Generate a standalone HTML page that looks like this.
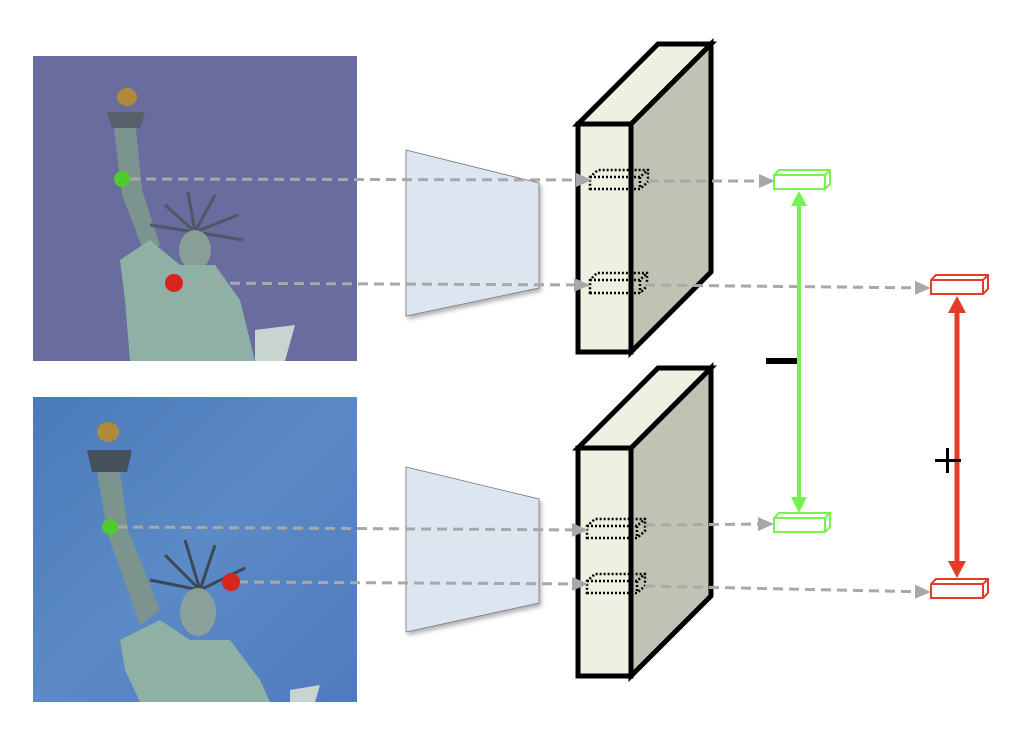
<!DOCTYPE html>
<html><head><meta charset="utf-8"><style>html,body{margin:0;padding:0;background:#fff}svg{display:block}</style></head><body>
<svg width="1030" height="734" viewBox="0 0 1030 734" xmlns="http://www.w3.org/2000/svg">
<defs>
<marker id="ag" markerWidth="16" markerHeight="14" refX="15" refY="7" orient="auto" markerUnits="userSpaceOnUse"><path d="M0,0 L16,7 L0,14z" fill="#a8a8a8"/></marker>
<linearGradient id="bg2" x1="0" y1="0" x2="1" y2="1"><stop offset="0" stop-color="#4a7ab8"/><stop offset="0.5" stop-color="#5b8ac6"/><stop offset="1" stop-color="#4f7bbd"/></linearGradient>
<filter id="sh" x="-10%" y="-10%" width="130%" height="130%"><feDropShadow dx="2" dy="3" stdDeviation="2" flood-color="#000" flood-opacity="0.3"/></filter>
</defs>
<!-- top photo -->
<rect x="33" y="56" width="324" height="305" fill="#686c9e"/>
<g>
<ellipse cx="127" cy="97" rx="10" ry="9" fill="#b08a3a"/>
<path d="M107,112 L145,112 L140,128 L112,128Z" fill="#55606a"/>
<path d="M114,128 L136,128 L142,190 L160,245 L145,255 L122,195Z" fill="#7c948e"/>
<g stroke="#4d5868" stroke-width="3"><line x1="195" y1="232" x2="150" y2="225"/><line x1="195" y1="232" x2="165" y2="205"/><line x1="195" y1="232" x2="188" y2="192"/><line x1="195" y1="232" x2="215" y2="195"/><line x1="195" y1="232" x2="238" y2="215"/><line x1="195" y1="232" x2="243" y2="240"/></g>
<ellipse cx="195" cy="250" rx="16" ry="20" fill="#8a9e98"/>
<path d="M120,260 L150,240 L180,265 L215,265 L240,300 L255,361 L130,361 L125,300Z" fill="#8fb0a4"/>
<path d="M255,330 L295,325 L285,361 L255,361Z" fill="#c8d4d0"/>
</g>
<!-- bottom photo -->
<rect x="33" y="397" width="324" height="305" fill="url(#bg2)"/>
<g>
<ellipse cx="108" cy="432" rx="11" ry="10" fill="#b08a3a"/>
<path d="M87,450 L132,450 L127,472 L92,472Z" fill="#44505c"/>
<path d="M97,472 L120,472 L128,530 L160,610 L140,625 L108,535Z" fill="#7c948e"/>
<g stroke="#3c4856" stroke-width="3"><line x1="200" y1="590" x2="150" y2="580"/><line x1="200" y1="590" x2="165" y2="555"/><line x1="200" y1="590" x2="185" y2="540"/><line x1="200" y1="590" x2="215" y2="545"/><line x1="200" y1="590" x2="245" y2="568"/></g>
<ellipse cx="198" cy="612" rx="18" ry="24" fill="#8aa09a"/>
<path d="M120,640 L160,620 L190,640 L230,640 L260,680 L270,702 L140,702 L125,670Z" fill="#8fb0a4"/>
<path d="M290,690 L320,685 L315,702 L290,702Z" fill="#c8d4d0"/>
</g>
<!-- trapezoids -->
<polygon points="406,150 539,183 539,288 406,316" fill="#dde5f0" stroke="#777" stroke-width="0.8" filter="url(#sh)"/>
<polygon points="406,467 539,499 539,603 406,632" fill="#dde5f0" stroke="#777" stroke-width="0.8" filter="url(#sh)"/>
<!-- blocks -->
<g stroke="#000" stroke-width="5" stroke-linejoin="miter">
<polygon points="631,124 711,44 711,272 631,352" fill="#c0c2b3"/>
<polygon points="578,124 658,44 711,44 631,124" fill="#eef0e2"/>
<rect x="578" y="124" width="53" height="228" fill="#eef0e2"/>
<polygon points="631,448 711,368 711,596 631,676" fill="#c0c2b3"/>
<polygon points="578,448 658,368 711,368 631,448" fill="#eef0e2"/>
<rect x="578" y="448" width="53" height="228" fill="#eef0e2"/>
</g>
<!-- dotted boxes -->
<g fill="none" stroke="#000" stroke-width="2.5" stroke-dasharray="2,2">
<path d="M590,189 L640,189 L648,182 L648,170 L598,170 L590,177Z M590,177 L640,177 L648,170 M640,177 L640,189"/>
<path d="M590,293 L640,293 L647,286 L647,273 L597,273 L590,280Z M590,280 L640,280 L647,273 M640,280 L640,293"/>
<path d="M587,538 L637,538 L645,531 L645,519 L595,519 L587,526Z M587,526 L637,526 L645,519 M637,526 L637,538"/>
<path d="M587,593 L637,593 L645,586 L645,574 L595,574 L587,581Z M587,581 L637,581 L645,574 M637,581 L637,593"/>
</g>
<!-- dashed arrows -->
<g stroke="#a8a8a8" stroke-width="3" stroke-dasharray="10,6" fill="none" marker-end="url(#ag)">
<line x1="130" y1="179" x2="591" y2="180"/>
<line x1="648" y1="181" x2="774" y2="181"/>
<line x1="182" y1="283" x2="589" y2="285"/>
<line x1="645" y1="285" x2="930" y2="288"/>
<line x1="117" y1="527" x2="587" y2="530"/>
<line x1="645" y1="525" x2="773" y2="524"/>
<line x1="238" y1="582" x2="587" y2="584"/>
<line x1="645" y1="586" x2="930" y2="592"/>
</g>
<!-- points -->
<circle cx="122" cy="179" r="8" fill="#4ecc2e"/>
<circle cx="174" cy="283" r="9" fill="#d8241c"/>
<circle cx="110" cy="527" r="8" fill="#4ecc2e"/>
<circle cx="231" cy="582" r="9" fill="#d8241c"/>
<!-- feature boxes -->
<g fill="#fff" stroke="#76f34a" stroke-width="2">
<path d="M774,189 L825,189 L830,184 L830,170 L779,170 L774,175Z M774,175 L825,175 L830,170 M825,175 L825,189"/>
<path d="M774,532 L825,532 L830,527 L830,513 L779,513 L774,518Z M774,518 L825,518 L830,513 M825,518 L825,532"/>
</g>
<g fill="#fff" stroke="#e63b28" stroke-width="2">
<path d="M931,294 L983,294 L988,289 L988,275 L936,275 L931,280Z M931,280 L983,280 L988,275 M983,280 L983,294"/>
<path d="M931,598 L983,598 L988,593 L988,579 L936,579 L931,584Z M931,584 L983,584 L988,579 M983,584 L983,598"/>
</g>
<!-- green double arrow -->
<line x1="799" y1="205" x2="799" y2="500" stroke="#76f34a" stroke-width="4"/>
<polygon points="799,191 791,206 807,206" fill="#76f34a"/>
<polygon points="799,513 791,497 807,497" fill="#76f34a"/>
<rect x="766" y="358" width="31" height="6" fill="#000"/>
<!-- red double arrow -->
<line x1="957" y1="310" x2="957" y2="565" stroke="#e63b28" stroke-width="5"/>
<polygon points="957,296 948,313 966,313" fill="#e63b28"/>
<polygon points="957,578 948,561 966,561" fill="#e63b28"/>
<rect x="935" y="459" width="26" height="3" fill="#000"/>
<rect x="946" y="448" width="3" height="25" fill="#000"/>
</svg>
</body></html>
